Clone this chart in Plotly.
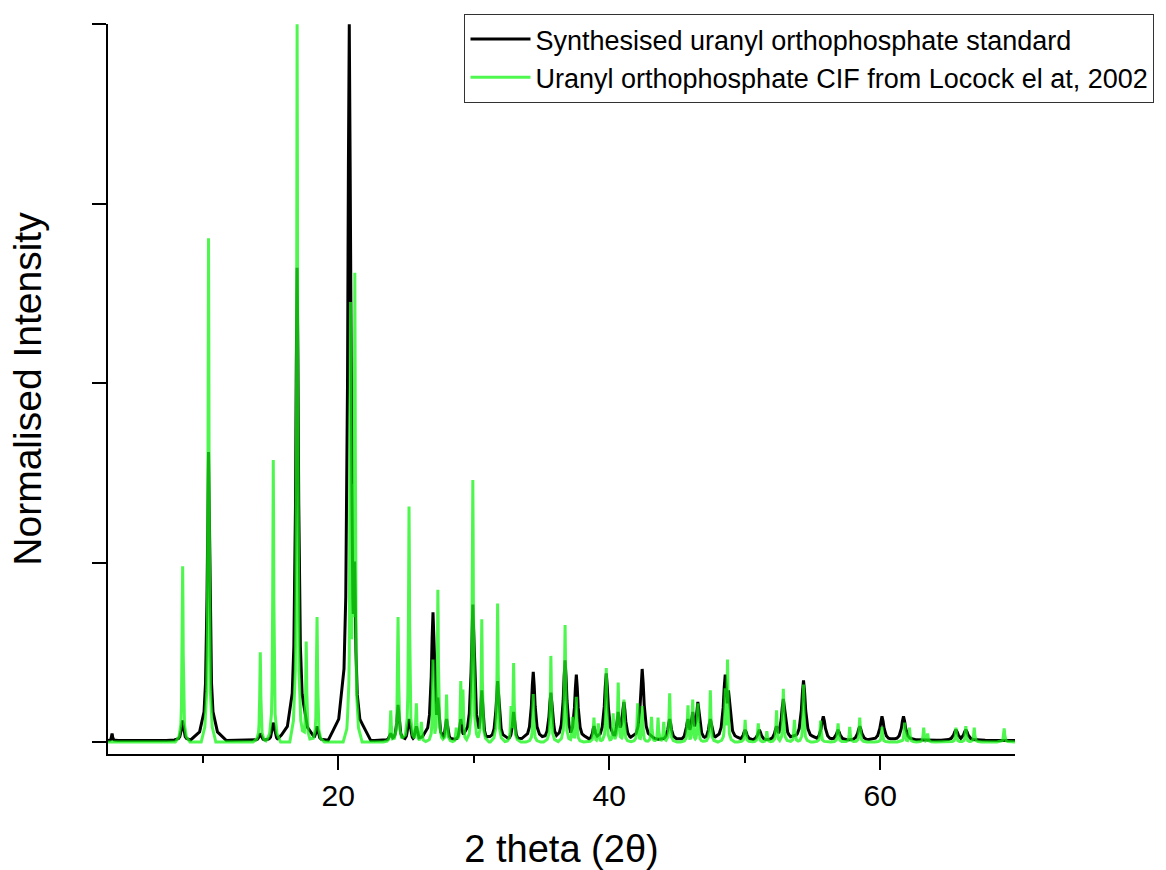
import numpy as np
import plotly.graph_objects as go

# ---------------- data ----------------
# Synthesised uranyl orthophosphate standard (black): peak 2θ, normalised height, half width
std_pos = [3.3, 8.5, 10.42, 14.24, 15.2, 16.96, 17.63, 18.43, 20.81, 21.2,
           23.87, 24.41, 25.22, 25.76, 26.99, 27.35, 27.99, 29.04, 29.93, 30.59,
           31.76, 32.94, 34.39, 35.69, 36.74, 37.57, 38.87, 39.78, 40.66, 41.08,
           42.43, 44.46, 45.81, 46.16, 46.54, 47.46, 48.56, 48.8, 50.03, 51.08,
           52.35, 52.85, 54.34, 55.8, 56.89, 58.49, 60.13, 61.72, 65.59, 66.32]
std_height = [0.01, 0.028, 0.403, 0.01, 0.025, 0.66, 0.015, 0.02, 1.0, 0.25,
              0.01, 0.05, 0.03, 0.02, 0.179, 0.06, 0.03, 0.03, 0.19, 0.07,
              0.083, 0.04, 0.096, 0.067, 0.112, 0.092, 0.02, 0.094, 0.04, 0.054,
              0.1, 0.03, 0.03, 0.04, 0.054, 0.03, 0.092, 0.07, 0.015, 0.015,
              0.02, 0.058, 0.084, 0.034, 0.015, 0.02, 0.034, 0.034, 0.015, 0.015]
std_halfwidth = [0.04, 0.1, 0.11, 0.1, 0.1, 0.12, 0.1, 0.1, 0.13, 0.1,
                 0.1, 0.1, 0.1, 0.1, 0.13, 0.1, 0.1, 0.1, 0.13, 0.1,
                 0.13, 0.1, 0.14, 0.14, 0.14, 0.14, 0.12, 0.15, 0.12, 0.14,
                 0.15, 0.14, 0.14, 0.14, 0.14, 0.14, 0.15, 0.15, 0.15, 0.15,
                 0.15, 0.16, 0.16, 0.16, 0.16, 0.16, 0.16, 0.16, 0.18, 0.18]
std_base = 0.002

# Uranyl orthophosphate CIF from Locock et al. (green): peak 2θ, normalised height
cif_pos = [8.51, 10.42, 14.24, 15.2, 16.96, 17.63, 18.43, 20.9, 21.05, 21.12,
           21.22, 23.87, 24.41, 25.22, 25.76, 26.13, 26.99, 27.35, 27.99, 28.71,
           29.04, 29.2, 29.93, 30.59, 31.76, 32.75, 32.94, 34.39, 35.69, 36.74,
           37.28, 37.57, 38.87, 39.19, 39.78, 40.29, 40.66, 41.08, 42.1, 42.43,
           43.12, 43.6, 44.02, 44.46, 45.81, 46.16, 46.54, 47.46, 48.56, 48.73,
           50.03, 51.0, 51.63, 52.35, 52.85, 53.67, 54.34, 55.6, 56.89, 57.75,
           58.49, 60.13, 61.8, 62.16, 63.21, 63.5, 65.59, 66.32, 66.94, 69.15]
cif_height = [0.245, 0.702, 0.125, 0.393, 1.0, 0.14, 0.174, 0.613, 0.36, 0.21,
              0.654, 0.044, 0.174, 0.328, 0.054, 0.028, 0.115, 0.212, 0.066, 0.02,
              0.085, 0.073, 0.365, 0.171, 0.193, 0.05, 0.11, 0.067, 0.12, 0.163,
              0.035, 0.063, 0.034, 0.026, 0.103, 0.04, 0.083, 0.059, 0.054, 0.05,
              0.035, 0.034, 0.028, 0.068, 0.051, 0.059, 0.054, 0.072, 0.075, 0.115,
              0.031, 0.026, 0.015, 0.044, 0.074, 0.031, 0.08, 0.03, 0.026, 0.021,
              0.034, 0.021, 0.027, 0.02, 0.02, 0.012, 0.02, 0.022, 0.02, 0.019]
cif_halfwidth = 0.045
cif_base = 0.0

# peak outline shape (offset in half widths -> fraction of height)
profile_offset = [-12, -6, -3, -2, -1, -0.5, 0, 0.5, 1, 2, 3, 6, 12]
profile_fraction = [0.0, 0.03, 0.1, 0.2, 0.5, 0.8, 1.0, 0.8, 0.5, 0.2, 0.1, 0.03, 0.0]

x_range = [3, 69.95]


def outline(pos, height, halfwidth, base):
    if np.isscalar(halfwidth):
        halfwidth = [halfwidth] * len(pos)
    off = np.array(profile_offset)
    pts = [x_range[0], x_range[1]]
    for p, w in zip(pos, halfwidth):
        pts.extend(list(p + off * w))
    grid = np.unique(np.clip(pts, x_range[0], x_range[1]))
    y = np.zeros_like(grid)
    for p, h, w in zip(pos, height, halfwidth):
        y = np.maximum(y, h * np.interp(grid, p + off * w, profile_fraction, left=0, right=0))
    return grid, base + y * (1 - base)


sx, sy = outline(std_pos, std_height, std_halfwidth, std_base)
cx, cy = outline(cif_pos, cif_height, cif_halfwidth, cif_base)

FONT = "Liberation Sans, Arial, sans-serif"

fig = go.Figure()
fig.add_trace(go.Scatter(x=sx, y=sy, mode="lines",
                         name="Synthesised uranyl orthophosphate standard",
                         line=dict(color="black", width=3)))
fig.add_trace(go.Scatter(x=cx, y=cy, mode="lines",
                         name="Uranyl orthophosphate CIF from Locock el at, 2002",
                         line=dict(color="rgb(20,245,20)", width=3), opacity=0.75))

fig.update_layout(
    width=1166, height=870,
    margin=dict(l=108, r=148, t=24, b=116, pad=0),
    paper_bgcolor="white", plot_bgcolor="white",
    font=dict(family=FONT, color="black"),
    showlegend=True,
    legend=dict(x=1.1538, y=1.0137, xanchor="right", yanchor="top",
                bgcolor="white", bordercolor="#333", borderwidth=1,
                font=dict(size=27, family=FONT), itemwidth=60,
                tracegroupgap=0),
    xaxis=dict(range=x_range, tickvals=[20, 40, 60], ticktext=["20", "40", "60"],
               ticks="outside", ticklen=14, tickwidth=2, tickcolor="black",
               minor=dict(tickvals=[10, 30, 50], ticks="outside", ticklen=7,
                          tickwidth=2, tickcolor="black"),
               showline=True, linewidth=2, linecolor="black",
               showgrid=False, zeroline=False, automargin=False,
               tickfont=dict(size=30, family=FONT),
               title=dict(text="2 theta (2θ)", font=dict(size=38, family=FONT), standoff=26)),
    yaxis=dict(range=[-0.0167, 1.0005], tickvals=[0, 0.25, 0.5, 0.75, 1.0],
               showticklabels=False,
               ticks="outside", ticklen=14, tickwidth=2, tickcolor="black",
               showline=True, linewidth=2, linecolor="black",
               showgrid=False, zeroline=False, automargin=False,
               title=dict(text="Normalised Intensity", font=dict(size=39, family=FONT), standoff=38)),
)

fig.write_html("out.html")
